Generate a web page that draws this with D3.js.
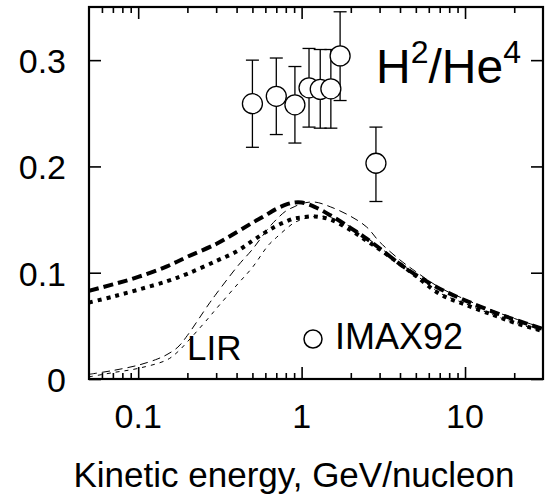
<!DOCTYPE html>
<html><head><meta charset="utf-8">
<script src="https://cdn.jsdelivr.net/npm/d3@7"></script>
<style>body{margin:0;background:#fff}svg{display:block}text{font-family:"Liberation Sans",Arial,sans-serif;fill:#000}</style>
</head><body>
<svg id="c" width="554" height="498"></svg>
<script>
// ---- data ----
const energyGrid = [0.05,0.07,0.1,0.15,0.2,0.3,0.4,0.5,0.6,0.7,0.8,0.9,1.0,1.2,1.5,2,2.5,3,4,5,7,10,15,20,30];
const thickDashed = [0.083,0.089,0.096,0.106,0.115,0.127,0.138,0.147,0.154,0.160,0.164,0.166,0.166,0.162,0.154,0.142,0.132,0.123,0.108,0.098,0.085,0.074,0.063,0.056,0.047];
const thickDotted = [0.072,0.0775,0.084,0.092,0.099,0.111,0.120,0.130,0.138,0.144,0.148,0.151,0.152,0.153,0.150,0.140,0.130,0.122,0.108,0.097,0.080,0.070,0.060,0.053,0.045];
const lirUpperE = [0.05,0.07,0.1,0.132,0.15,0.175,0.2,0.268,0.3,0.41,0.5,0.627,0.7,0.8,0.9,1.0,1.2,1.5,2,2.5,3,4,5,7,10,15,20,30];
const lirUpper  = [0.0044,0.008,0.013,0.019,0.023,0.030,0.041,0.0696,0.080,0.107,0.122,0.142,0.150,0.158,0.162,0.165,0.1665,0.162,0.153,0.143,0.129,0.112,0.101,0.086,0.075,0.064,0.057,0.048];
const lirLowerE = [0.05,0.07,0.1,0.15,0.175,0.2,0.268,0.3,0.41,0.5,0.627,0.7,0.8,0.9,1.0,1.2,1.5,2,2.5,3,4,5,7,10,15,20,30];
const lirLower  = [0.002,0.006,0.010,0.018,0.0257,0.035,0.057,0.066,0.090,0.105,0.126,0.133,0.141,0.147,0.150,0.153,0.152,0.143,0.133,0.124,0.109,0.098,0.081,0.071,0.060,0.053,0.045];
const imaxE   = [0.50,0.70,0.91,1.11,1.30,1.51,1.72,2.85];
const imaxVal = [0.259,0.266,0.258,0.274,0.2725,0.273,0.304,0.203];
const imaxHi  = [0.300,0.302,0.294,0.311,0.310,0.310,0.3455,0.237];
const imaxLo  = [0.218,0.230,0.222,0.237,0.236,0.236,0.262,0.167];
const xMajor = [0.1,1,10];
const xMajorLabels = ["0.1","1","10"];
const xMinor = [0.06,0.07,0.08,0.09,0.2,0.3,0.4,0.5,0.6,0.7,0.8,0.9,2,3,4,5,6,7,8,9,20];
const yTicks = [0,0.1,0.2,0.3];
const yTickLabels = ["0","0.1","0.2","0.3"];

// ---- layout ----
const L=89, R=543, T=7, B=379;
const svg = d3.select("#c");
const x = d3.scaleLog().domain([0.05,30]).range([L,R]);
const y = d3.scaleLinear().domain([0,0.35]).range([B,T]);

svg.append("clipPath").attr("id","pc").append("rect")
  .attr("x",L).attr("y",T).attr("width",R-L).attr("height",B-T);

const plot = svg.append("g").attr("clip-path","url(#pc)");
const line = d3.line().x(d=>x(d[0])).y(d=>y(d[1])).curve(d3.curveCatmullRom.alpha(0.5));
function draw(es, vs, w, dash){
  plot.append("path").datum(es.map((e,i)=>[e,vs[i]]))
    .attr("d",line).attr("fill","none").attr("stroke","#000")
    .attr("stroke-width",w).attr("stroke-dasharray",dash);
}
draw(lirUpperE, lirUpper, 1, "8,5");
draw(lirLowerE, lirLower, 1, "4,5");
draw(energyGrid, thickDotted, 4, "4,5");
draw(energyGrid, thickDashed, 4, "10,5");

// error bars and points
const pts = imaxE.map((e,i)=>({e, v:imaxVal[i], hi:imaxHi[i], lo:imaxLo[i]}));
const eb = svg.append("g").attr("stroke","#000").attr("stroke-width",1.3);
pts.forEach(p=>{
  const cx = x(p.e);
  eb.append("line").attr("x1",cx).attr("x2",cx).attr("y1",y(p.hi)).attr("y2",y(p.lo));
  eb.append("line").attr("x1",cx-6.5).attr("x2",cx+6.5).attr("y1",y(p.hi)).attr("y2",y(p.hi));
  eb.append("line").attr("x1",cx-6.5).attr("x2",cx+6.5).attr("y1",y(p.lo)).attr("y2",y(p.lo));
});
svg.append("g").selectAll("circle").data(pts).join("circle")
  .attr("cx",d=>x(d.e)).attr("cy",d=>y(d.v)).attr("r",10)
  .attr("fill","#fff").attr("stroke","#000").attr("stroke-width",1.3);

// axes (inward ticks)
function styleAxis(g){ g.select(".domain").remove(); g.selectAll("line").attr("stroke","#000").attr("stroke-width",1.6); g.selectAll("text").remove(); }
svg.append("g").attr("transform",`translate(0,${B})`).call(d3.axisBottom(x).tickValues(xMajor).tickSize(-12)).call(styleAxis);
svg.append("g").attr("transform",`translate(0,${B})`).call(d3.axisBottom(x).tickValues(xMinor).tickSize(-6)).call(styleAxis);
svg.append("g").attr("transform",`translate(0,${T})`).call(d3.axisTop(x).tickValues(xMajor).tickSize(-12)).call(styleAxis);
svg.append("g").attr("transform",`translate(0,${T})`).call(d3.axisTop(x).tickValues(xMinor).tickSize(-6)).call(styleAxis);
svg.append("g").attr("transform",`translate(${L},0)`).call(d3.axisLeft(y).tickValues(yTicks).tickSize(-12)).call(styleAxis);
svg.append("g").attr("transform",`translate(${R},0)`).call(d3.axisRight(y).tickValues(yTicks).tickSize(-12)).call(styleAxis);

// frame
svg.append("rect").attr("x",L).attr("y",T).attr("width",R-L).attr("height",B-T)
  .attr("fill","none").attr("stroke","#000").attr("stroke-width",2.2);

// tick labels
svg.append("g").selectAll("text").data(xMajor).join("text")
  .attr("x",d=>x(d)).attr("y",B+49).attr("text-anchor","middle").attr("font-size",34)
  .text((d,i)=>xMajorLabels[i]);
svg.append("g").selectAll("text").data(yTicks).join("text")
  .attr("x",66).attr("y",d=>y(d)+13).attr("text-anchor","end").attr("font-size",34)
  .text((d,i)=>yTickLabels[i]);

// axis title
svg.append("text").attr("x",294).attr("y",487).attr("text-anchor","middle").attr("font-size",35)
  .text("Kinetic energy, GeV/nucleon");

// panel title H2/He4
const t = svg.append("text").attr("x",376).attr("y",83).attr("font-size",48);
t.append("tspan").text("H");
t.append("tspan").attr("font-size",32).attr("dy",-20).text("2");
t.append("tspan").attr("dy",20).text("/He");
t.append("tspan").attr("font-size",32).attr("dy",-20).text("4");

// labels
svg.append("text").attr("x",187).attr("y",360).attr("font-size",35).text("LIR");
svg.append("circle").attr("cx",313).attr("cy",339).attr("r",9).attr("fill","#fff").attr("stroke","#000").attr("stroke-width",1.5);
svg.append("text").attr("x",335).attr("y",349).attr("font-size",36).text("IMAX92");
</script>
</body></html>
